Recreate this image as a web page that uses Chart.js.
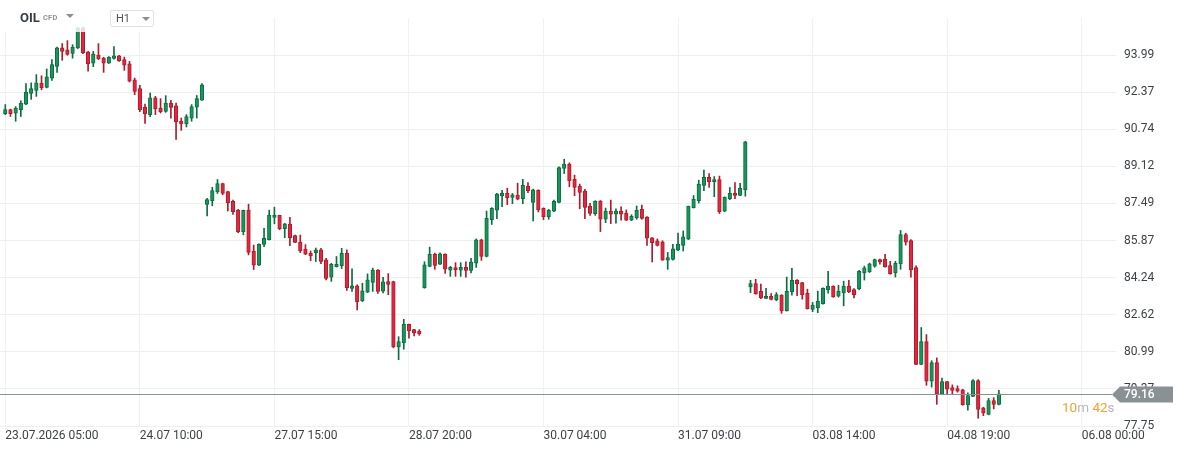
<!DOCTYPE html>
<html>
<head>
<meta charset="utf-8">
<script src="https://cdn.jsdelivr.net/npm/chart.js@4.4.1/dist/chart.umd.min.js"></script>
<style>
  html, body { margin:0; padding:0; background:#fff; width:1184px; height:452px; overflow:hidden; font-family: Roboto, "Noto Sans", Arial, sans-serif; }
  #wrap { position:relative; width:1184px; height:452px; }
  #c { position:absolute; left:0; top:0; }
  #hdr { position:absolute; left:0; top:0; width:160px; height:32px; background:rgba(255,255,255,0.82); }
  .sym { position:absolute; left:20px; top:10px; font-size:13px; font-weight:700; color:#333c45; line-height:16px; }
  .cfd { position:absolute; left:43px; top:13px; font-size:7.5px; font-weight:700; color:#8f959b; line-height:10px; letter-spacing:0.2px; }
  .tri { position:absolute; width:0; height:0; border-left:4px solid transparent; border-right:4px solid transparent; border-top:4px solid #8a8f95; }
  .tf { position:absolute; left:110px; top:10px; width:42px; height:15px; border:1px solid #dfe1e3; border-radius:2px; background:#fff; }
  .tf span.t { position:absolute; left:5px; top:1px; font-size:11px; color:#4d545a; line-height:14px; }
  #cd { position:absolute; left:1062px; top:399px; font-size:13.5px; line-height:16px; white-space:nowrap; }
  #cd .n { color:#f5a02a; }
  #cd .u { color:#b3b8bd; }
</style>
</head>
<body>
<div id="wrap">
  <canvas id="c" width="1184" height="452"></canvas>
  <div id="hdr">
    <span class="sym">OIL</span><span class="cfd">CFD</span>
    <span class="tri" style="left:66px;top:14px;"></span>
    <div class="tf"><span class="t">H1</span><span class="tri" style="left:31px;top:6px;"></span></div>
  </div>
  <div id="cd"><span class="n">10</span><span class="u">m</span> <span class="n">42</span><span class="u">s</span></div>
</div>
<script>
// ---- data (H1 candles, OIL CFD) ----
const openP = [
  91.42,91.60,91.44,91.60,91.84,92.31,92.44,92.76,92.57,92.98,93.49,94.30,94.22,94.06,94.30,95.17,94.12,93.63,93.99,93.86,
  93.63,93.84,93.95,93.79,93.60,92.90,92.52,91.71,91.38,92.12,91.67,91.52,91.89,91.77,91.10,90.97,91.23,91.71,92.01,87.45,
  87.61,88.00,88.36,88.01,87.59,87.20,86.26,87.20,85.41,84.79,85.70,85.91,86.88,86.97,86.39,86.59,86.09,85.80,85.49,85.31,
  85.34,85.46,85.02,84.26,84.73,84.77,85.31,83.77,83.89,83.22,83.61,84.03,84.58,83.65,84.07,84.07,81.21,81.39,82.20,81.97,
  81.89,83.80,84.74,85.27,84.83,85.27,84.57,84.68,84.57,84.70,84.56,84.88,85.90,85.17,86.78,87.20,87.83,87.94,87.76,87.86,
  87.70,88.25,87.54,88.07,87.28,86.91,87.15,87.54,89.02,89.21,88.55,88.25,88.03,87.38,87.05,87.60,86.80,87.16,87.02,87.16,
  87.07,86.76,86.87,87.23,86.89,85.99,85.86,85.81,85.01,85.04,85.45,85.65,85.93,87.31,87.61,88.28,88.63,88.45,88.54,87.15,
  87.70,87.93,87.84,88.10,83.84,83.98,83.65,83.33,83.43,83.27,83.48,82.79,83.62,84.13,84.03,83.56,82.85,82.93,83.10,83.71,
  83.87,83.43,83.58,83.87,83.72,83.75,84.45,84.49,84.75,85.04,85.06,84.77,84.45,84.84,86.13,85.87,84.69,80.45,81.45,79.71,
  80.53,79.14,79.69,79.43,79.39,79.33,78.67,79.05,79.74,78.55,78.26,78.86,78.70
];
const highP = [
  91.82,91.62,91.73,91.99,92.74,92.77,93.13,93.08,93.38,93.79,94.34,94.49,94.62,94.44,95.20,95.22,94.15,94.15,94.49,93.89,
  93.92,94.36,93.98,93.90,93.71,92.98,92.66,91.84,92.33,92.18,92.08,92.21,92.01,91.89,91.23,91.38,91.82,92.22,92.74,87.72,
  88.20,88.54,88.38,88.03,87.64,87.23,87.20,87.46,85.67,85.72,86.40,87.20,87.33,86.98,86.62,86.88,86.11,86.11,85.69,85.41,
  85.54,85.53,85.09,84.87,85.17,85.53,85.46,84.63,83.93,84.00,84.41,84.66,84.60,84.26,84.42,84.09,81.66,82.42,82.21,81.98,
  81.97,84.94,85.58,85.32,85.33,85.29,84.74,84.90,84.90,84.94,85.09,85.94,85.93,87.16,87.31,87.93,88.07,88.16,87.93,88.38,
  88.55,88.41,88.12,88.09,87.30,87.23,87.64,89.09,89.43,89.27,88.73,88.34,88.11,87.50,87.61,87.62,87.29,87.64,87.26,87.34,
  87.21,87.00,87.38,87.42,86.92,86.00,85.94,85.86,85.35,85.70,86.20,86.29,87.38,87.84,88.51,88.95,88.80,88.67,88.69,87.78,
  88.19,88.41,88.37,90.21,84.13,84.17,83.96,83.78,83.55,83.59,83.50,84.27,84.65,84.16,84.04,83.74,83.16,83.65,83.80,84.52,
  83.89,83.91,84.09,84.13,83.77,84.56,84.75,84.88,85.06,85.06,85.26,84.96,84.96,86.31,86.19,85.91,84.76,82.06,81.75,80.61,
  80.73,79.85,79.71,79.55,79.51,79.36,79.20,79.78,79.78,78.57,78.96,78.99,79.31
];
const lowP = [
  91.38,91.30,91.09,91.30,91.82,92.05,92.18,92.47,92.55,92.88,93.23,93.76,93.98,93.85,94.27,94.05,93.28,93.48,93.79,93.23,
  93.62,93.81,93.71,93.32,92.81,92.25,91.51,91.00,91.29,91.38,91.45,91.48,91.22,90.30,90.69,90.84,91.09,91.23,92.00,86.95,
  87.39,87.93,87.87,87.16,87.01,86.21,86.12,85.24,84.60,84.77,85.60,85.89,86.60,86.34,85.99,85.64,85.78,85.34,85.25,84.99,
  84.95,84.86,84.15,84.08,84.71,84.64,83.68,83.64,82.83,83.20,83.59,83.64,83.55,83.58,83.50,81.17,80.65,81.11,81.60,81.69,
  81.72,83.78,84.72,84.61,84.81,84.43,84.30,84.30,84.30,84.26,84.45,84.69,85.00,85.15,86.57,86.83,87.35,87.44,87.48,87.65,
  87.48,87.96,86.73,87.12,86.78,86.80,87.13,87.52,88.80,88.22,87.83,87.26,86.83,86.97,86.97,86.26,86.65,86.61,86.63,86.76,
  86.74,86.74,86.80,86.80,85.65,84.93,85.63,85.00,84.61,85.01,85.43,85.41,85.91,87.29,87.51,88.05,88.19,87.79,87.05,87.13,
  87.66,87.70,87.83,87.81,83.59,83.52,83.32,83.32,83.27,83.23,82.68,82.78,83.48,83.45,83.30,82.87,82.75,82.71,83.08,83.56,
  83.38,83.39,83.01,83.59,83.36,83.71,84.14,84.47,84.70,84.83,84.70,84.39,84.27,84.61,85.67,84.27,80.43,80.43,79.53,79.45,
  78.70,79.13,79.14,79.14,79.23,78.66,78.44,79.03,78.09,78.20,78.24,78.50,78.67
];
const closeP = [
  91.60,91.42,91.67,91.89,92.37,92.52,92.77,92.56,93.03,93.57,94.30,94.15,94.02,94.34,95.17,94.08,93.60,94.03,93.82,93.63,
  93.90,93.95,93.73,93.54,92.84,92.40,91.60,91.41,92.12,91.63,91.51,91.89,91.70,91.06,90.97,91.29,91.73,92.08,92.69,87.66,
  88.06,88.36,87.93,87.53,87.13,86.26,87.19,85.35,84.79,85.70,85.96,86.98,86.98,86.39,86.60,85.99,85.79,85.43,85.27,85.19,
  85.46,84.95,84.21,84.83,84.83,85.31,83.81,83.89,83.18,83.67,84.15,84.58,83.64,84.06,83.95,81.21,81.44,82.20,81.91,81.82,
  81.78,84.81,85.27,84.78,85.29,84.61,84.70,84.58,84.70,84.56,84.93,85.90,85.17,86.84,87.28,87.90,87.94,87.74,87.87,87.68,
  88.29,88.05,88.09,87.22,86.91,87.19,87.58,89.06,89.21,88.48,88.19,87.97,87.32,87.06,87.60,86.80,87.16,87.02,87.16,87.02,
  86.76,86.93,87.19,86.84,85.97,85.78,85.65,85.01,85.12,85.51,85.71,86.03,87.37,87.67,88.34,88.63,88.44,88.54,87.13,87.76,
  87.93,87.84,88.15,90.19,83.98,83.53,83.36,83.43,83.29,83.50,82.79,83.65,84.13,83.97,83.50,82.88,83.04,83.22,83.78,83.87,
  83.40,83.65,83.87,83.62,83.50,84.52,84.67,84.85,85.03,84.93,84.71,84.42,84.87,86.13,85.80,84.58,80.45,81.45,79.71,80.53,
  79.14,79.69,79.36,79.31,79.27,78.67,79.08,79.74,78.48,78.31,78.86,78.70,79.16
];
const xTickIdx = [0, 26, 52, 78, 104, 130, 156, 182, 208];
const xTickLabels = ["23.07.2026 05:00", "24.07 10:00", "27.07 15:00", "28.07 20:00", "30.07 04:00", "31.07 09:00", "03.08 14:00", "04.08 19:00", "06.08 00:00"];
const yTicks = [77.75, 79.37, 80.99, 82.62, 84.24, 85.87, 87.49, 89.12, 90.74, 92.37, 93.99];
const lastPrice = 79.16;

// ---- styling ----
const UP_FILL = '#17955d', UP_LINE = '#0d6d40';
const DN_FILL = '#e2273d', DN_LINE = '#ad1c2d';
const isUp = closeP.map((c, i) => c >= openP[i]);
const bodyData = closeP.map((c, i) => ({ x: i, y: [openP[i], c] }));
const wickData = closeP.map((c, i) => ({ x: i, y: [lowP[i], highP[i]] }));

const priceTag = {
  id: 'priceTag',
  afterDraw(chart) {
    const { ctx, chartArea, scales } = chart;
    const y = Math.round(scales.y.getPixelForValue(lastPrice)) + 0.5;
    ctx.save();
    ctx.strokeStyle = '#8a9296';
    ctx.lineWidth = 1;
    ctx.beginPath();
    ctx.moveTo(0, y);
    ctx.lineTo(1112, y);
    ctx.stroke();
    ctx.fillStyle = '#899195';
    ctx.beginPath();
    ctx.moveTo(1112, y);
    ctx.lineTo(1120, y - 8);
    ctx.lineTo(1173, y - 8);
    ctx.lineTo(1173, y + 8);
    ctx.lineTo(1120, y + 8);
    ctx.closePath();
    ctx.fill();
    ctx.fillStyle = '#ffffff';
    ctx.font = '500 12px Roboto, "Noto Sans", sans-serif';
    ctx.textAlign = 'left';
    ctx.textBaseline = 'middle';
    ctx.fillText(lastPrice.toFixed(2), 1124, y);
    ctx.restore();
  }
};

const tickFont = { family: 'Roboto, "Noto Sans", sans-serif', size: 12 };
const X_PX = 5.175;

new Chart(document.getElementById('c'), {
  type: 'bar',
  data: {
    datasets: [
      {
        label: 'body',
        data: bodyData,
        order: 0,
        grouped: false,
        barThickness: 3.6,
        minBarLength: 1,
        borderWidth: 1,
        borderSkipped: false,
        backgroundColor: isUp.map(u => u ? UP_FILL : DN_FILL),
        borderColor: isUp.map(u => u ? UP_LINE : DN_LINE)
      },
      {
        label: 'wick',
        data: wickData,
        order: 1,
        grouped: false,
        barThickness: 1,
        borderWidth: 0,
        backgroundColor: isUp.map(u => u ? UP_LINE : DN_LINE)
      }
    ]
  },
  options: {
    responsive: false,
    animation: false,
    events: [],
    layout: { padding: { top: 18, left: 0, right: 0, bottom: 0 } },
    plugins: { legend: { display: false }, tooltip: { enabled: false } },
    scales: {
      x: {
        type: 'linear',
        offset: false,
        min: -5.3 / X_PX,
        max: -5.3 / X_PX + 1116 / X_PX,
        grid: { color: '#f1f1f1', drawTicks: false, offset: false },
        border: { display: false },
        afterBuildTicks: s => { s.ticks = xTickIdx.map(v => ({ value: v })); },
        afterFit: s => { s.height = 26; },
        ticks: {
          align: 'start',
          autoSkip: false,
          maxRotation: 0,
          padding: 3,
          color: '#3d4248',
          font: tickFont,
          callback: (v, i) => xTickLabels[i]
        }
      },
      y: {
        type: 'linear',
        position: 'right',
        min: 77.75,
        max: 95.61,
        grid: { color: '#efefef', drawTicks: false },
        border: { display: false },
        afterBuildTicks: s => { s.ticks = yTicks.map(v => ({ value: v })); },
        afterFit: s => { s.width = 68; },
        ticks: {
          padding: 8,
          color: '#3d4248',
          font: tickFont,
          callback: v => Number(v).toFixed(2)
        }
      }
    }
  },
  plugins: [priceTag]
});
</script>
</body>
</html>
